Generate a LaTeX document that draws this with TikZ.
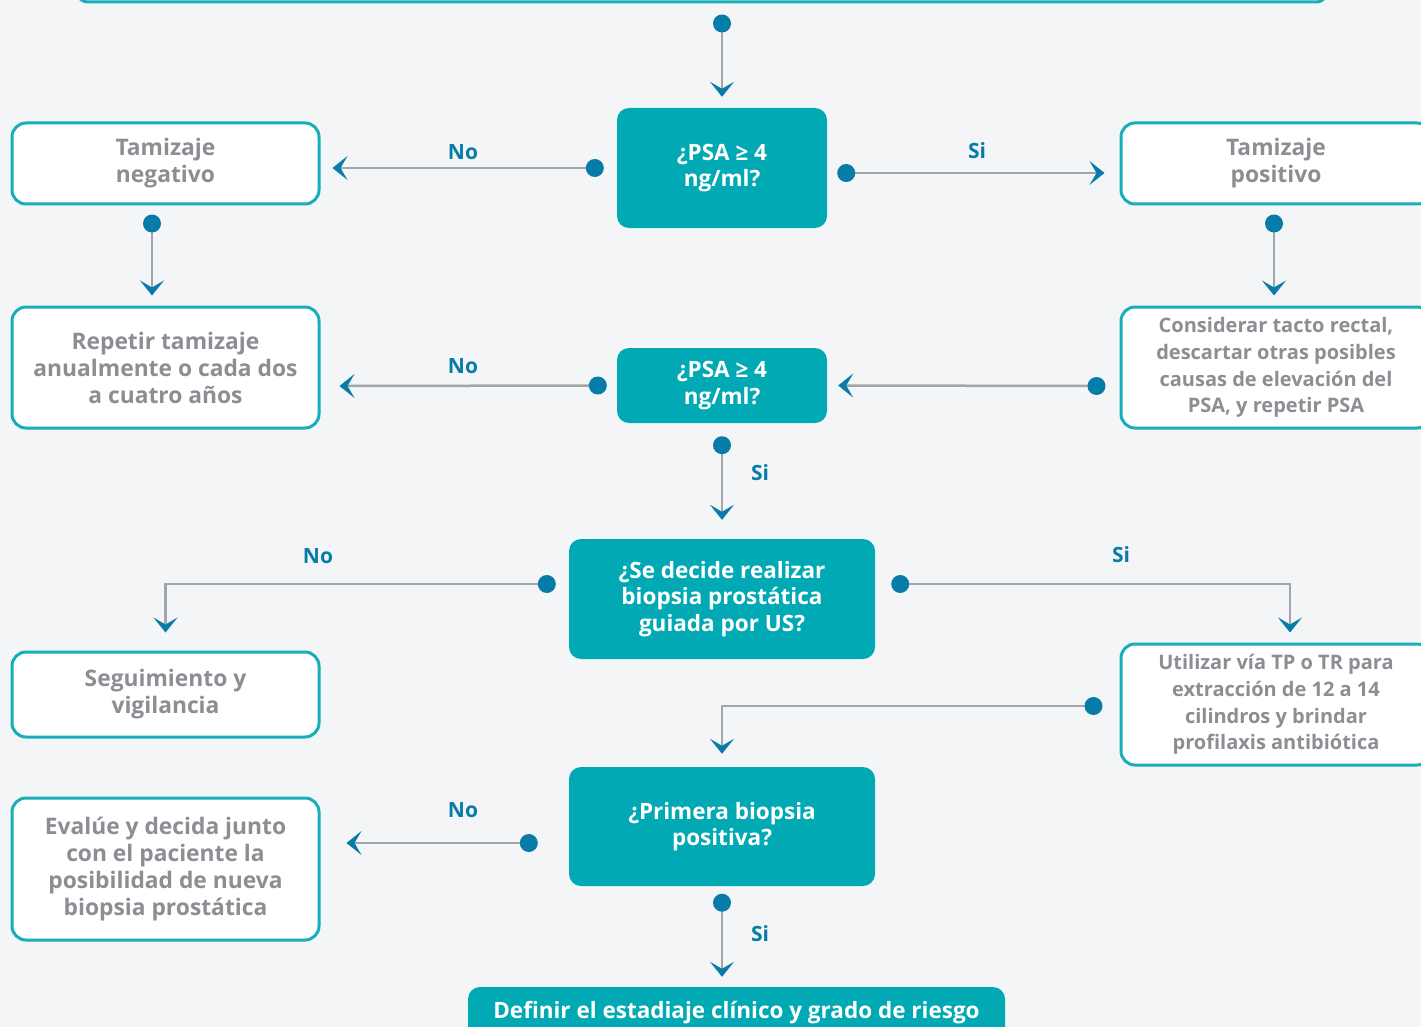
\documentclass[tikz,border=0pt]{standalone}
\usepackage{fontspec}
\setmainfont{Open Sans}
\usetikzlibrary{arrows.meta,positioning}
\definecolor{qteal}{RGB}{0,169,180}
\definecolor{bteal}{RGB}{24,174,184}
\definecolor{dblue}{RGB}{8,124,168}
\definecolor{tgray}{RGB}{140,142,148}
\definecolor{lgray}{RGB}{162,165,170}
\definecolor{bgray}{RGB}{244,245,247}
\begin{document}
\begin{tikzpicture}[
    x=1pt, y=-1pt,
    obox/.style={draw=bteal, line width=3pt, fill=white, rounded corners=14pt, inner sep=0pt, align=center, text=tgray, font=\fontsize{22.8}{27}\selectfont\bfseries},
    sbox/.style={obox, font=\fontsize{20}{26.7}\selectfont\bfseries},
    qbox/.style={fill=qteal, rounded corners=12pt, inner sep=0pt, align=center, text=white, font=\fontsize{22.5}{26.5}\selectfont\bfseries},
    dot/.style={circle, fill=dblue, minimum size=18pt, inner sep=0pt},
    lbl/.style={text=dblue, font=\fontsize{21}{26}\selectfont\bfseries},
    arr/.style={-{Stealth[length=15pt, width=24pt, inset=7pt, color=dblue]}, draw=lgray, line width=2.5pt}
]
\useasboundingbox (0,0) rectangle (1421,1027);
\clip (0,0) rectangle (1421,1027);
\fill[bgray] (0,0) rectangle (1421,1027);

\node[obox, minimum width=1255pt, minimum height=80pt] (top) at (702,-38) {};
\node[qbox, minimum width=210pt, minimum height=120pt] (p1) at (722,168) {¿PSA ≥ 4\\ng/ml?};
\node[obox, minimum width=307pt, minimum height=81pt] (neg) at (165.5,163.5) {Tamizaje\\negativo};
\node[obox, minimum width=310pt, minimum height=81pt] (pos) at (1276,163.5) {Tamizaje\\positivo};
\node[obox, minimum width=307pt, minimum height=121pt] (rep) at (165.5,367.5) {Repetir tamizaje\\anualmente o cada dos\\a cuatro años};
\node[sbox, minimum width=310pt, minimum height=121pt] (cons) at (1276,367.5) {Considerar tacto rectal,\\descartar otras posibles\\causas de elevación del\\PSA, y repetir PSA};
\node[qbox, minimum width=210pt, minimum height=75pt] (p2) at (722,385.5) {¿PSA ≥ 4\\ng/ml?};
\node[qbox, minimum width=306pt, minimum height=120pt] (dec) at (722,599) {¿Se decide realizar\\biopsia prostática\\guiada por US?};
\node[obox, minimum width=307pt, minimum height=85pt] (seg) at (165.5,694.5) {Seguimiento y\\vigilancia};
\node[sbox, minimum width=310pt, minimum height=121pt] (util) at (1276,704.5) {Utilizar vía TP o TR para\\extracción de 12 a 14\\cilindros y brindar\\profilaxis antibiótica};
\node[qbox, minimum width=306pt, minimum height=119pt] (prim) at (722,826.5) {¿Primera biopsia\\positiva?};
\node[obox, minimum width=307pt, minimum height=142pt] (eval) at (165.5,869) {Evalúe y decida junto\\con el paciente la\\posibilidad de nueva\\biopsia prostática};
\node[qbox, minimum width=537pt, minimum height=52pt] (fin) at (736.5,1013) {Definir el estadiaje clínico y grado de riesgo};

\draw[arr] ([xshift=20pt,yshift=-20pt]top.south) node[dot] (d1) {} -- ([yshift=11pt]p1.north);
\draw[arr] ([xshift=-22pt]p1.west) node[dot] (d2) {} -- ([xshift=12pt,yshift=-4.5pt]neg.east);
\draw[arr] ([xshift=19pt,yshift=-5pt]p1.east) node[dot] (d3) {} -- ([xshift=-15pt,yshift=-9.5pt]pos.west);
\draw[arr] ([xshift=-13.5pt,yshift=-18pt]neg.south) node[dot] (d4) {} -- ([xshift=-13.5pt,yshift=10pt]rep.north);
\draw[arr] ([xshift=-2pt,yshift=-18pt]pos.south) node[dot] (d5) {} -- ([xshift=-2pt,yshift=10pt]cons.north);
\draw[arr] ([xshift=-23pt,yshift=-18.5pt]cons.west) node[dot] (d6) {} -- ([xshift=11pt]p2.east);
\draw[arr] ([xshift=-19pt]p2.west) node[dot] (d7) {} -- ([xshift=19pt,yshift=-18.5pt]rep.east);
\draw[arr] ([yshift=-22pt]p2.south) node[dot] (d8) {} -- ([yshift=19pt]dec.north);
\draw[arr] ([xshift=-22pt,yshift=15pt]dec.west) node[dot] (d9) {} -| ([yshift=18pt]seg.north);
\draw[arr] ([xshift=25pt,yshift=15pt]dec.east) node[dot] (d10) {} -| ([xshift=14pt,yshift=10pt]util.north);
\draw[arr] ([xshift=-26pt,yshift=-1.5pt]util.west) node[dot] (d11) {} -| ([yshift=13pt]prim.north);
\draw[arr] ([xshift=-40pt,yshift=-16.5pt]prim.west) node[dot] (d12) {} -- ([xshift=26pt,yshift=26pt]eval.east);
\draw[arr] ([yshift=-16.5pt]prim.south) node[dot] (d13) {} -- ([xshift=-14.5pt,yshift=10pt]fin.north);

\node[lbl] (n1) at (463,152) {No};
\node[lbl] (s1) at (977,151) {Si};
\node[lbl] (n2) at (463,366) {No};
\node[lbl] (s2) at (760,473) {Si};
\node[lbl] (n3) at (318,556) {No};
\node[lbl] (s3) at (1121,555) {Si};
\node[lbl] (n4) at (463,810) {No};
\node[lbl] (s4) at (760,934) {Si};
\end{tikzpicture}
\end{document}
